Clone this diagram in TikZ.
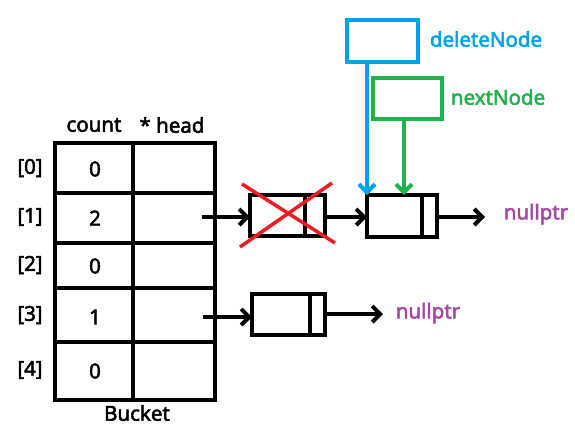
\documentclass[tikz,border=0pt]{standalone}
\usepackage{fontspec}
\newfontfamily\lblfont{Noto Sans}[FakeBold=2.5]
\usetikzlibrary{arrows.meta}
\definecolor{pblue}{RGB}{0,162,232}
\definecolor{pgreen}{RGB}{34,177,76}
\definecolor{pred}{RGB}{237,28,36}
\definecolor{ppurple}{RGB}{163,73,164}
\begin{document}
\begin{tikzpicture}[x=1pt,y=-1pt,
  thk/.style={line width=4pt},
  arr/.style={thk,-{Straight Barb[length=8pt,width=16pt,line width=4pt]}},
  txt/.style={font=\lblfont\fontsize{20.5}{24}\selectfont},
  cell/.style={draw,thk,minimum width=78pt,inner sep=0pt},
  lnode/.style={draw,thk,inner sep=0pt}]
\useasboundingbox (0,0) rectangle (575,432);
% table
\draw[thk] (55,143) rectangle (215,400);
\draw[thk] (133,143) -- (133,400);
\foreach \yy in {193,243,288,342} \draw[thk] (55,\yy) -- (215,\yy);
\node[txt] (hc) at (94,125) {count};
\node[txt] (hh) at (172,125) {* head};
\node[txt] (bk) at (137,413) {Bucket};
\node[txt] (i0) at (30,168) {[0]};
\node[txt] (i1) at (30,217) {[1]};
\node[txt] (i2) at (30,265) {[2]};
\node[txt] (i3) at (30,315) {[3]};
\node[txt] (i4) at (30,370) {[4]};
\node[txt] (v0) at (95,169) {0};
\node[txt] (v1) at (95,218) {2};
\node[txt] (v2) at (95,266) {0};
\node[txt] (v3) at (95,317) {1};
\node[txt] (v4) at (95,371) {0};
\coordinate (h1) at (202,217);
\coordinate (h3) at (203,317);
% crossed node
\draw[thk] (250,195) rectangle (325,236);
\draw[thk] (305,195) -- (305,236);
\coordinate (c1) at (250,217);
\coordinate (c1r) at (325,217);
% next node
\draw[thk] (367,195) rectangle (437,237);
\draw[thk] (422,195) -- (422,237);
\coordinate (n1) at (367,217);
\coordinate (n1r) at (437,217);
\coordinate (n1t) at (367,195);
\coordinate (n1t2) at (404,195);
% lower node
\draw[thk] (252,294) rectangle (325,335);
\draw[thk] (310,294) -- (310,335);
\coordinate (m1) at (252,317);
\coordinate (m1r) at (325,314);
% arrows
\draw[arr] (h1) -- (c1);
\draw[arr] (c1r) -- (n1);
\draw[arr] (h3) -- (m1);
\node[txt,text=ppurple] (np1) at (536,214) {nullptr};
\node[txt,text=ppurple] (np2) at (428,313) {nullptr};
\draw[arr] (n1r) -- (485,217);
\draw[arr] (m1r) -- (383,314);
% red X
\draw[pred,line width=3.5pt] (242,184) -- (335,243);
\draw[pred,line width=3.5pt] (332,183) -- (240,247);
% deleteNode
\draw[pblue,thk] (347,20) rectangle (418,62);
\node[txt,text=pblue] (dn) at (486,39) {deleteNode};
\draw[pblue,arr] (367,62) -- (n1t);
% nextNode
\draw[pgreen,thk] (373,78) rectangle (442,119);
\node[txt,text=pgreen] (nn) at (498,97) {nextNode};
\draw[pgreen,arr] (404,119) -- (n1t2);
\end{tikzpicture}
\end{document}
